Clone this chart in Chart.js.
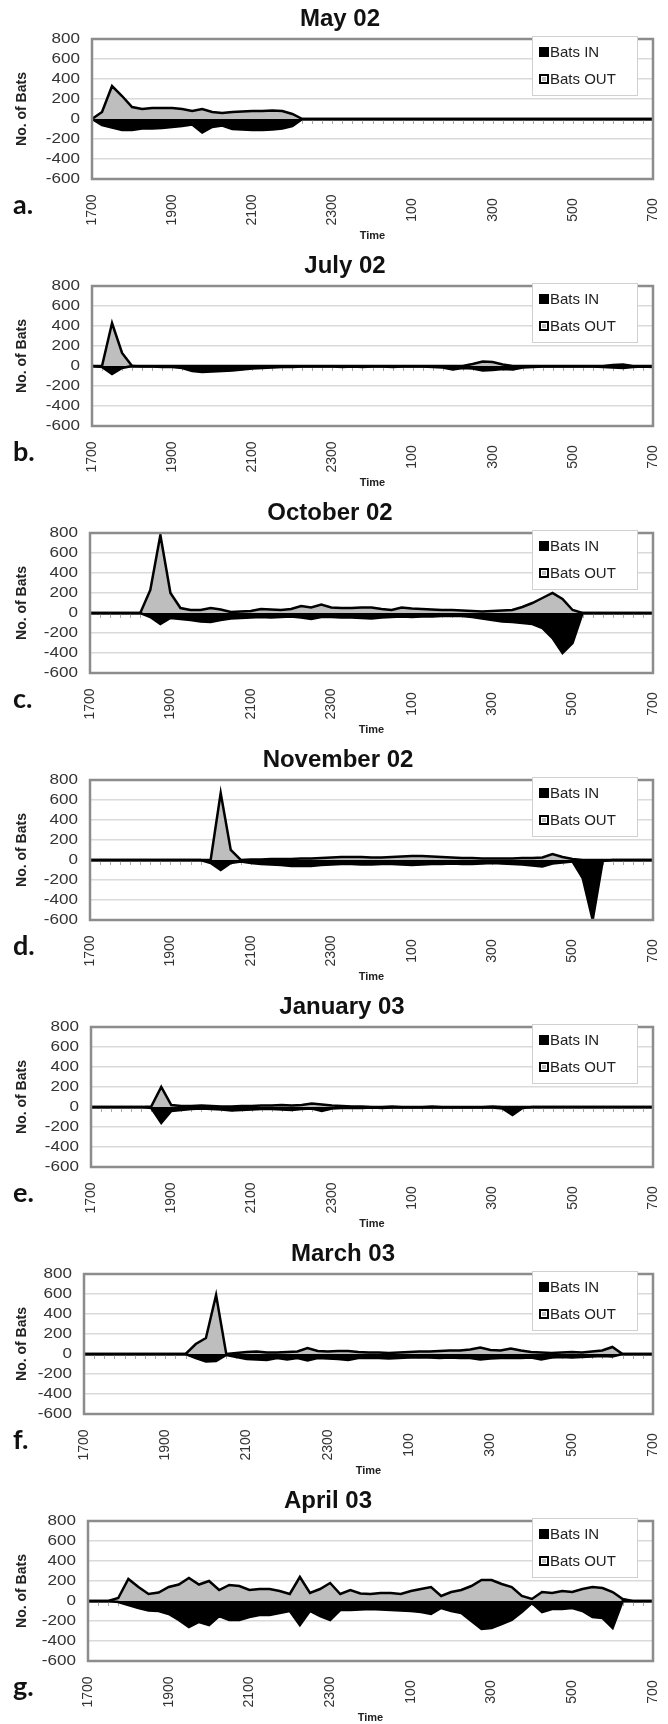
<!DOCTYPE html>
<html>
<head>
<meta charset="utf-8">
<script src="https://cdn.jsdelivr.net/npm/chart.js@4.4.0/dist/chart.umd.min.js"></script>
<style>
  body { margin: 0; background: #fff; }
  #wrap { position: relative; width: 668px; height: 1724px; background: #fff; overflow: hidden; }
  .panel { position: absolute; left: 0; width: 668px; height: 250px; }
</style>
</head>
<body>
<div id="wrap"></div>
<script>
// 15 minute steps, 1700 -> 700
const times = ['1700','1715','1730','1745','1800','1815','1830','1845','1900','1915','1930','1945',
  '2000','2015','2030','2045','2100','2115','2130','2145','2200','2215','2230','2245',
  '2300','2315','2330','2345','0','15','30','45','100','115','130','145',
  '200','215','230','245','300','315','330','345','400','415','430','445',
  '500','515','530','545','600','615','630','645','700'];
const shownTicks = ['1700','1900','2100','2300','100','300','500','700'];
const yTicks = [-600, -400, -200, 0, 200, 400, 600, 800];

const titles = ['May 02','July 02','October 02','November 02','January 03','March 03','April 03'];
const letters = ['a.','b.','c.','d.','e.','f.','g.'];

const may02Out = [0,70,330,230,120,100,110,110,110,100,80,100,70,60,70,75,80,80,85,80,50,0,
  0,0,0,0,0,0,0,0,0,0,0,0,0,0,0,0,0,0,0,0,0,0,0,0,0,0,0,0,0,0,0,0,0,0,0];
const may02In = [0,-60,-85,-110,-110,-95,-95,-90,-80,-70,-55,-135,-80,-65,-100,-105,-110,-110,-105,-95,-70,0,
  0,0,0,0,0,0,0,0,0,0,0,0,0,0,0,0,0,0,0,0,0,0,0,0,0,0,0,0,0,0,0,0,0,0,0];

const jul02Out = [0,0,430,130,0,0,0,0,0,0,0,0,0,0,0,0,0,0,0,0,0,0,0,0,0,0,0,0,0,0,0,0,0,0,0,0,0,0,
  20,45,40,15,0,0,0,0,0,0,0,0,0,0,10,15,0,0,0];
const jul02In = [0,-10,-80,-20,0,-5,-5,-10,-10,-20,-50,-60,-55,-50,-45,-35,-25,-20,-15,-10,-10,-5,-5,-5,
  -5,-10,-5,-10,-5,-5,-10,-5,-5,-5,-10,-15,-35,-20,-25,-45,-40,-30,-35,-15,-10,-5,-5,-5,
  -5,-5,-5,-10,-15,-20,-10,-5,-10];

const oct02Out = [0,0,0,0,0,0,230,780,200,50,30,30,50,35,10,15,20,40,35,30,40,70,55,85,
  55,50,50,55,55,40,30,55,45,40,35,30,30,25,20,15,20,25,30,60,100,150,200,140,30,0,
  0,0,0,0,0,0,0];
const oct02In = [0,0,0,0,0,0,-40,-110,-50,-60,-70,-85,-90,-70,-55,-50,-45,-40,-45,-40,-35,-45,-60,-40,
  -40,-45,-45,-50,-55,-45,-40,-35,-40,-35,-35,-30,-30,-30,-40,-55,-70,-85,-90,-100,-110,-150,-250,-400,-300,0,
  0,0,0,0,0,0,0];

const nov02Out = [0,0,0,0,0,0,0,0,0,0,0,0,0,670,100,0,5,5,10,10,10,15,15,20,
  25,30,30,30,25,25,30,35,40,40,35,30,25,20,20,15,15,15,15,20,20,25,60,30,10,0,
  0,0,0,0,0,0,0];
const nov02In = [0,0,0,0,0,0,0,0,0,0,0,0,-30,-100,-30,-15,-30,-40,-45,-50,-60,-60,-60,-50,
  -45,-40,-40,-45,-45,-40,-40,-45,-50,-45,-40,-40,-35,-40,-40,-35,-30,-35,-40,-45,-55,-65,-35,-25,-15,-180,
  -600,-10,0,0,0,0,0];

const jan03Out = [0,0,0,0,0,0,5,200,20,10,10,15,10,5,5,10,10,15,15,20,15,20,35,25,
  15,10,5,5,0,0,5,0,0,0,5,0,0,0,0,0,5,0,0,0,0,0,0,0,0,0,0,0,0,0,0,0,0];
const jan03In = [0,0,0,0,0,0,-10,-160,-40,-30,-20,-15,-20,-25,-35,-30,-25,-20,-20,-25,-30,-20,-15,-40,
  -15,-10,-10,-10,-5,-10,-5,-5,-5,-5,-5,-5,-5,-5,-5,-5,-5,-15,-80,-10,0,0,0,0,
  0,0,0,0,0,0,0,0,0];

const mar03Out = [0,0,0,0,0,0,0,0,0,0,0,100,160,590,0,10,20,25,15,15,20,25,60,30,
  25,30,30,20,15,15,10,15,20,25,25,30,35,35,45,65,40,35,55,35,20,15,10,15,20,15,
  25,35,70,0,0,0,0];
const mar03In = [0,0,0,0,0,0,0,0,0,0,0,-40,-75,-70,-10,-30,-50,-55,-60,-40,-55,-40,-65,-40,
  -45,-50,-60,-40,-40,-40,-45,-40,-35,-35,-35,-40,-35,-40,-40,-55,-45,-40,-40,-40,-35,-55,-35,-30,
  -35,-30,-25,-20,-25,0,0,0,0];

const apr03Out = [0,0,0,30,220,140,70,85,140,165,230,165,200,110,160,150,110,120,120,100,70,240,80,120,
  180,70,110,75,70,80,80,70,100,120,140,50,90,110,150,210,210,170,140,50,20,90,80,100,
  90,120,140,130,90,20,0,0,0];
const apr03In = [0,0,0,-10,-40,-70,-95,-100,-130,-190,-260,-210,-240,-150,-190,-190,-160,-140,-140,-120,-100,-240,-100,-150,
  -190,-90,-90,-85,-80,-85,-90,-95,-100,-110,-130,-70,-100,-120,-200,-280,-270,-230,-190,-110,-20,-110,-80,-80,
  -70,-100,-160,-170,-270,0,0,0,0];

const inSeries = [may02In, jul02In, oct02In, nov02In, jan03In, mar03In, apr03In];
const outSeries = [may02Out, jul02Out, oct02Out, nov02Out, jan03Out, mar03Out, apr03Out];

// layout of each panel (pixels)
const panelTops = [0, 247, 494, 741, 988, 1235, 1482];
const plotLefts = [92, 92, 90, 90, 91, 84, 88];
const titleXs = [340, 345, 330, 338, 342, 343, 328];
const PLOT_TOP = 39, PLOT_BOTTOM = 179, PLOT_RIGHT = 653, PANEL_H = 250;

const FONT = '"Liberation Sans", Arial, sans-serif';

const decorPlugin = {
  id: 'decor',
  beforeDatasetsDraw(chart) {
    const { ctx } = chart;
    const x = chart.scales.x, y = chart.scales.y;
    const y0 = y.getPixelForValue(0);
    // small category ticks on the zero axis
    ctx.save();
    ctx.strokeStyle = '#aaa';
    ctx.lineWidth = 1;
    for (let i = 0; i < times.length; i++) {
      const px = Math.round(x.getPixelForValue(i)) + 0.5;
      ctx.beginPath();
      ctx.moveTo(px, y0);
      ctx.lineTo(px, y0 + 5);
      ctx.stroke();
    }
    ctx.restore();
  },
  afterDraw(chart) {
    const { ctx, chartArea: a } = chart;
    const o = chart.options.plugins.decor;
    const x = chart.scales.x, y = chart.scales.y;
    ctx.save();
    // frame
    ctx.strokeStyle = '#8c8c8c';
    ctx.lineWidth = 2.5;
    ctx.strokeRect(a.left, a.top, a.right - a.left, a.bottom - a.top);

    // title
    ctx.fillStyle = '#111';
    ctx.font = 'bold 24px ' + FONT;
    ctx.textAlign = 'center';
    ctx.textBaseline = 'middle';
    ctx.fillText(o.title, o.titleX, 19);

    // y tick labels (a little wide, like the scan)
    ctx.font = '14px ' + FONT;
    ctx.fillStyle = '#333';
    ctx.textAlign = 'right';
    ctx.textBaseline = 'middle';
    yTicks.forEach(v => {
      ctx.save();
      ctx.translate(a.left - 12, y.getPixelForValue(v));
      ctx.scale(1.22, 1);
      ctx.fillText(String(v), 0, 0);
      ctx.restore();
    });

    // x tick labels, rotated and centred
    ctx.font = '14px ' + FONT;
    ctx.fillStyle = '#333';
    for (let i = 0; i < times.length; i++) {
      if (!shownTicks.includes(times[i])) continue;
      const px = x.getPixelForValue(i);
      ctx.save();
      ctx.translate(px, 210);
      ctx.rotate(-Math.PI / 2);
      ctx.textAlign = 'center';
      ctx.textBaseline = 'middle';
      ctx.fillText(times[i], 0, 0);
      ctx.restore();
    }

    // axis titles
    ctx.font = 'bold 11px ' + FONT;
    ctx.fillStyle = '#222';
    ctx.textAlign = 'center';
    ctx.fillText('Time', (a.left + a.right) / 2, 236);
    ctx.save();
    ctx.translate(22, (a.top + a.bottom) / 2);
    ctx.rotate(-Math.PI / 2);
    ctx.font = 'bold 14px ' + FONT;
    ctx.fillText('No. of Bats', 0, 0);
    ctx.restore();

    // panel letter
    ctx.font = 'bold 27px Lato, "Open Sans", sans-serif';
    ctx.fillStyle = '#111';
    ctx.textAlign = 'left';
    ctx.textBaseline = 'alphabetic';
    ctx.fillText(o.letter, 13, 214);

    // legend box
    const bx = a.right - 121, by = a.top - 3, bw = 105, bh = 59;
    ctx.fillStyle = '#fff';
    ctx.fillRect(bx, by, bw, bh);
    ctx.strokeStyle = '#d0d0d0';
    ctx.lineWidth = 1;
    ctx.strokeRect(bx + 0.5, by + 0.5, bw, bh);
    const items = chart.data.datasets;
    ctx.font = '15px ' + FONT;
    ctx.textBaseline = 'middle';
    items.forEach((ds, k) => {
      const cy = by + 16 + k * 27;
      ctx.fillStyle = '#000';
      ctx.fillRect(bx + 7, cy - 5, 10, 10);
      if (k === 1) {
        ctx.fillStyle = '#fff';
        ctx.fillRect(bx + 9, cy - 3, 6, 6);
        ctx.fillStyle = ds.backgroundColor;
        ctx.fillRect(bx + 10, cy - 2, 4, 4);
      }
      ctx.fillStyle = '#222';
      ctx.fillText(ds.label, bx + 18, cy + 1);
    });
    ctx.restore();
  }
};

const wrap = document.getElementById('wrap');

titles.forEach((title, k) => {
  const div = document.createElement('div');
  div.className = 'panel';
  div.style.top = panelTops[k] + 'px';
  const cv = document.createElement('canvas');
  cv.width = 668;
  cv.height = PANEL_H;
  div.appendChild(cv);
  wrap.appendChild(div);

  const padLeft = 10;
  new Chart(cv, {
    type: 'line',
    data: {
      labels: times,
      datasets: [
        {
          label: 'Bats IN',
          data: inSeries[k],
          fill: 'origin',
          backgroundColor: '#000',
          borderColor: '#000',
          borderWidth: 2.5,
          pointRadius: 0,
          tension: 0
        },
        {
          label: 'Bats OUT',
          data: outSeries[k],
          fill: 'origin',
          backgroundColor: '#bebebe',
          borderColor: '#000',
          borderWidth: 2.5,
          pointRadius: 0,
          tension: 0
        }
      ]
    },
    options: {
      responsive: false,
      animation: false,
      layout: { padding: { left: padLeft, right: 668 - PLOT_RIGHT, top: PLOT_TOP, bottom: 0 } },
      plugins: {
        legend: { display: false },
        title: { display: false },
        tooltip: { enabled: false },
        decor: { title: title, titleX: titleXs[k], letter: letters[k] }
      },
      scales: {
        x: {
          grid: { display: false },
          border: { display: false },
          ticks: { display: false },
          afterFit(s) { s.height = PANEL_H - PLOT_BOTTOM; }
        },
        y: {
          min: -600,
          max: 800,
          afterBuildTicks(s) { s.ticks = yTicks.map(v => ({ value: v })); },
          ticks: { display: false },
          grid: {
            drawTicks: false,
            color: c => (c.tick && c.tick.value === 0 ? '#000' : '#dadada'),
            lineWidth: c => (c.tick && c.tick.value === 0 ? 2.5 : 1.5)
          },
          border: { display: false },
          afterFit(s) { s.width = plotLefts[k] - padLeft; }
        }
      }
    },
    plugins: [decorPlugin]
  });
});
</script>
</body>
</html>
